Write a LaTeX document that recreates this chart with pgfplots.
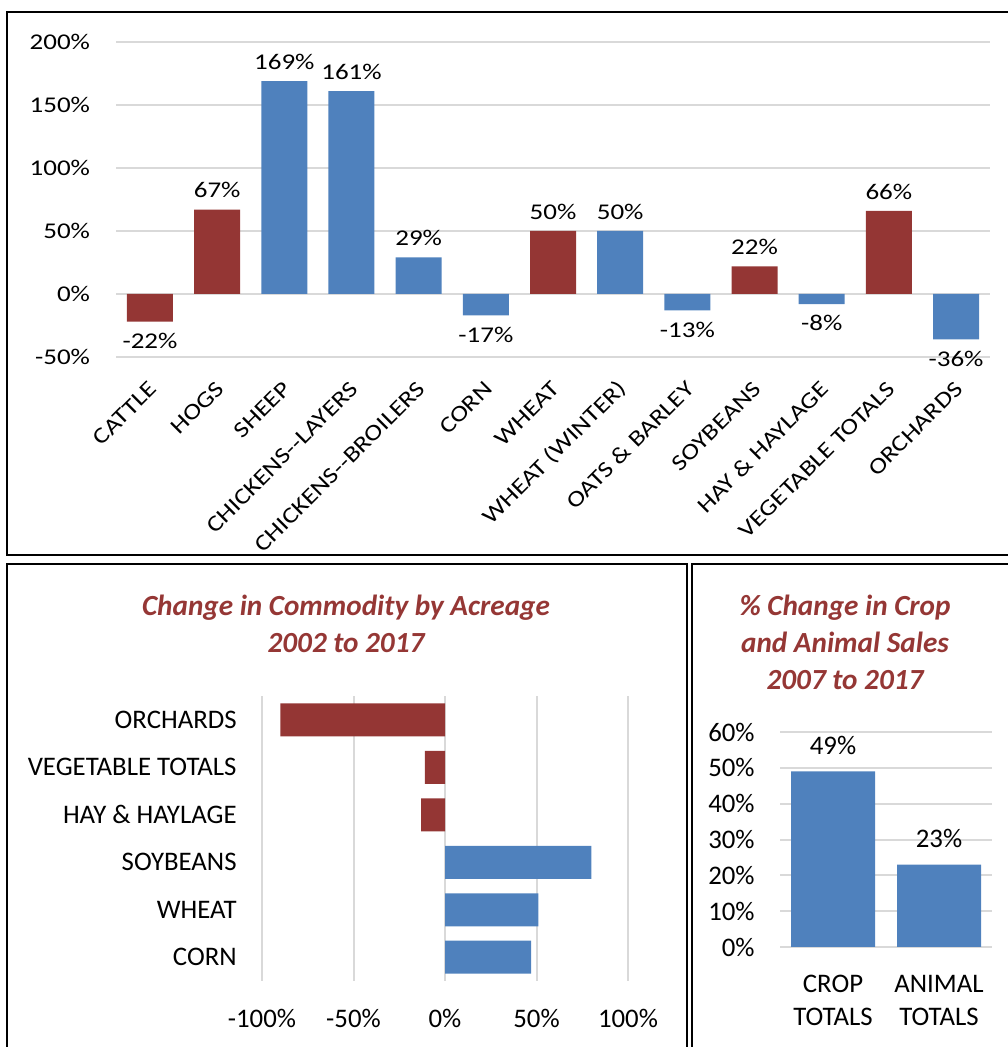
\documentclass[border=0pt]{standalone}
\usepackage{fontspec}
\setmainfont{Carlito}
\newfontfamily\topfont[FakeStretch=1.2]{Carlito}
\usepackage{pgfplots}
\pgfplotsset{compat=1.18}

\definecolor{barred}{HTML}{943634}
\definecolor{barblue}{HTML}{4F81BD}
\definecolor{gridgray}{HTML}{D9D9D9}
\definecolor{titlered}{HTML}{953735}

\newcommand{\topsize}{\topfont\fontsize{11.25}{13}\selectfont}
\newcommand{\botsize}{\fontsize{13.4}{16.5}\selectfont}
\newcommand{\titlesize}{\fontsize{14.6}{18.5}\selectfont\bfseries\itshape}

\pgfplotsset{
  excelbase/.style={
    scale only axis,
    anchor=south west,
    axis line style={draw=none},
    major tick length=0pt,
    /pgf/number format/assume math mode=true,
    major grid style={gridgray, line width=1pt},
  },
}

\begin{document}
\begin{tikzpicture}
\useasboundingbox (0,0) rectangle (503.5pt,523.5pt);

% frames
\draw[line width=1pt] (3.5pt,517.5pt) rectangle (506pt,246pt);
\draw[line width=1pt] (3.5pt,241.5pt) rectangle (343.5pt,-3pt);
\draw[line width=1pt] (346pt,241.5pt) rectangle (506pt,-3pt);

% top chart
\begin{axis}[excelbase,
  at={(58.2pt,345pt)}, width=436.6pt, height=157.5pt,
  xmin=-0.5, xmax=12.5, ymin=-50, ymax=200,
  ytick={-50,0,...,200}, ymajorgrids,
  yticklabel={\pgfmathprintnumber{\tick}\%},
  yticklabel style={font=\topsize, anchor=east, inner sep=0pt, xshift=-13pt},
  xtick={0,...,12},
  xticklabels={CATTLE,HOGS,SHEEP,CHICKENS-{}-LAYERS,CHICKENS-{}-BROILERS,CORN,WHEAT,WHEAT (WINTER),OATS \& BARLEY,SOYBEANS,HAY \& HAYLAGE,VEGETABLE TOTALS,ORCHARDS},
  xticklabel style={font=\topsize, yshift=-14pt, xshift=1.5pt, rotate=45, anchor=east, inner sep=0pt},
  ybar, bar width=23pt, bar shift=0pt,
  nodes near coords={\pgfmathprintnumber{\pgfplotspointmeta}\%},
  every node near coord/.append style={font=\topsize, text=black, inner sep=5.5pt},
]
\addplot[fill=barred, draw=none] coordinates {(0,-22) (1,67) (6,50) (9,22) (11,66)};
\addplot[fill=barblue, draw=none] coordinates {(2,169) (3,161) (4,29) (5,-17) (7,50) (8,-13) (10,-8) (12,-36)};
\end{axis}

% bottom left chart
\node[text=titlered, font=\titlesize, align=center] at (173pt,211.5pt) {Change in Commodity by Acreage\\2002 to 2017};
\begin{axis}[excelbase,
  at={(131pt,33pt)}, width=183pt, height=142.5pt,
  xmin=-100, xmax=100, ymin=-0.5, ymax=5.5,
  xtick={-100,-50,...,100}, xmajorgrids,
  xticklabel={\pgfmathprintnumber{\tick}\%},
  xticklabel style={font=\botsize, anchor=north, inner sep=0pt, yshift=-14pt},
  ytick={0,...,5},
  yticklabels={CORN,WHEAT,SOYBEANS,HAY \& HAYLAGE,VEGETABLE TOTALS,ORCHARDS},
  yticklabel style={font=\botsize, anchor=east, inner sep=0pt, xshift=-12.5pt},
  xbar, bar width=16.5pt, bar shift=0pt,
]
\addplot[fill=barred, draw=none] coordinates {(-13,3) (-11,4) (-90,5)};
\addplot[fill=barblue, draw=none] coordinates {(47,0) (51,1) (80,2)};
\end{axis}

% bottom right chart
\node[text=titlered, font=\titlesize, align=center] at (422.5pt,202.5pt) {\% Change in Crop\\and Animal Sales\\2007 to 2017};
\begin{axis}[excelbase,
  at={(390pt,50pt)}, width=106pt, height=107.5pt,
  xmin=-0.5, xmax=1.5, ymin=0, ymax=60,
  ytick={0,10,...,60}, ymajorgrids,
  yticklabel={\pgfmathprintnumber{\tick}\%},
  yticklabel style={font=\botsize, anchor=east, inner sep=0pt, xshift=-12.5pt},
  xtick={0,1},
  xticklabels={{CROP\\TOTALS},{ANIMAL\\TOTALS}},
  xticklabel style={font=\botsize, align=center, anchor=north, inner sep=0pt, yshift=-14pt},
  ybar, bar width=42pt, bar shift=0pt,
  nodes near coords={\pgfmathprintnumber{\pgfplotspointmeta}\%},
  every node near coord/.append style={font=\botsize, text=black, inner sep=8pt},
]
\addplot[fill=barblue, draw=none] coordinates {(0,49) (1,23)};
\end{axis}
\end{tikzpicture}
\end{document}
